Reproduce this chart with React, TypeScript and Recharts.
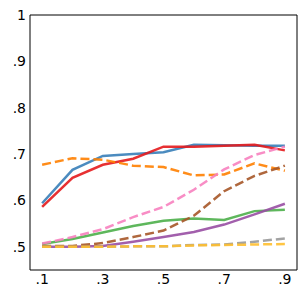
import React from 'react'
import { LineChart, Line, XAxis, YAxis, ReferenceArea } from 'recharts'

const xs = [0.1, 0.2, 0.3, 0.4, 0.5, 0.6, 0.7, 0.8, 0.9]
const blue = [0.594, 0.666, 0.696, 0.7, 0.704, 0.72, 0.719, 0.718, 0.718]
const red = [0.586, 0.649, 0.677, 0.69, 0.716, 0.716, 0.718, 0.72, 0.708]
const green = [0.506, 0.517, 0.531, 0.545, 0.556, 0.561, 0.558, 0.577, 0.58]
const purple = [0.5, 0.5, 0.502, 0.511, 0.521, 0.532, 0.548, 0.57, 0.593]
const orange = [0.677, 0.691, 0.688, 0.675, 0.672, 0.654, 0.656, 0.68, 0.664]
const brown = [0.502, 0.502, 0.508, 0.521, 0.535, 0.567, 0.62, 0.653, 0.675]
const pink = [0.507, 0.521, 0.538, 0.564, 0.586, 0.623, 0.667, 0.698, 0.716]
const gray = [0.5, 0.5, 0.5, 0.501, 0.501, 0.504, 0.505, 0.511, 0.518]
const yellow = [0.5, 0.5, 0.5, 0.501, 0.501, 0.503, 0.504, 0.505, 0.506]

const xTicks = [0.1, 0.3, 0.5, 0.7, 0.9]
const yTicks = [0.5, 0.6, 0.7, 0.8, 0.9, 1]

const series = [
  { key: 'blue', values: blue, color: '#377eb8', dashed: false },
  { key: 'red', values: red, color: '#e41a1c', dashed: false },
  { key: 'green', values: green, color: '#4daf4a', dashed: false },
  { key: 'purple', values: purple, color: '#984ea3', dashed: false },
  { key: 'orange', values: orange, color: '#ff7f00', dashed: true },
  { key: 'brown', values: brown, color: '#a65628', dashed: true },
  { key: 'pink', values: pink, color: '#f781bf', dashed: true },
  { key: 'gray', values: gray, color: '#999999', dashed: true },
  { key: 'yellow', values: yellow, color: '#ffbf2f', dashed: true },
]

const data = xs.map((x, i) => {
  const row: Record<string, number> = { x }
  series.forEach((s) => (row[s.key] = s.values[i]))
  return row
})

const fmt = (v: number) => (v === 1 ? '1' : String(v).replace(/^0/, ''))

const tickStyle = { fill: '#000', fontSize: 14, fontFamily: 'DejaVu Sans' }

export default function App() {
  return (
    <div style={{ position: 'absolute', left: 0, top: 0 }}>
      <LineChart width={300} height={300} data={data} margin={{ top: 15, right: 3, left: 0, bottom: 0 }}>
        <XAxis
          dataKey="x"
          type="number"
          domain={[0.06, 0.94]}
          ticks={xTicks}
          tickFormatter={fmt}
          allowDataOverflow
          height={30}
          tickLine={false}
          tickSize={0}
          tickMargin={4}
          axisLine={false}
          tick={tickStyle}
        />
        <YAxis
          type="number"
          domain={[0.45, 1]}
          ticks={yTicks}
          tickFormatter={fmt}
          allowDataOverflow
          width={30}
          tickLine={false}
          tickSize={0}
          tickMargin={4}
          axisLine={false}
          tick={tickStyle}
        />
        {series.map((s) => (
          <Line
            key={s.key}
            dataKey={s.key}
            stroke={s.color}
            strokeWidth={2.5}
            strokeOpacity={0.9}
            strokeDasharray={s.dashed ? '9 4' : undefined}
            dot={false}
            isAnimationActive={false}
          />
        ))}
        <ReferenceArea x1={0.06} x2={0.94} y1={0.45} y2={1} fill="none" stroke="#000" strokeWidth={1} ifOverflow="visible" />
      </LineChart>
    </div>
  )
}
